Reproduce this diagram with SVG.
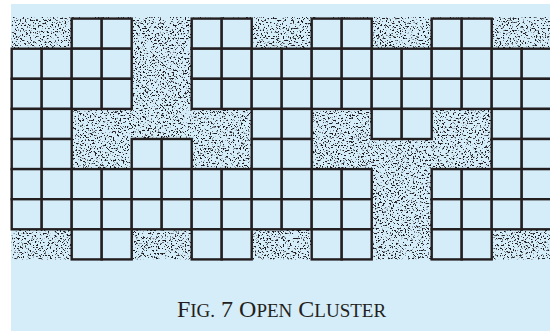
<svg xmlns="http://www.w3.org/2000/svg" width="550" height="331" viewBox="0 0 550 331">
<style>
.bg{fill:#d5ecf9}
.c{fill:#d5ecf9;stroke:#231f20;stroke-width:2.4}
.t{font-family:"Liberation Serif","Times New Roman",serif;fill:#231f20}
.s{font-size:19px}
.b{font-size:24px}
</style>
<defs>
<filter id="stip" x="0" y="0" width="1" height="1" color-interpolation-filters="sRGB">
<feTurbulence type="fractalNoise" baseFrequency="0.6" numOctaves="2" seed="7" result="n"/>
<feColorMatrix in="n" type="matrix" values="0 0 0 0 0.12  0 0 0 0 0.11  0 0 0 0 0.12  -11 0 0 0 4.7" result="d"/>
<feComposite in="d" in2="SourceGraphic" operator="in"/>
</filter>
</defs>
<rect class="bg" x="11" y="4" width="539" height="327"/>
<rect id="stipple" x="11.7" y="17" width="538.3" height="242.4" fill="#d5ecf9" filter="url(#stip)"/>
<g id="row0">
<rect class="c" x="71.7" y="18.6" width="30" height="30.1"/><rect class="c" x="101.7" y="18.6" width="30" height="30.1"/>
<rect class="c" x="191.7" y="18.6" width="30" height="30.1"/><rect class="c" x="221.7" y="18.6" width="30" height="30.1"/>
<rect class="c" x="311.7" y="18.6" width="30" height="30.1"/><rect class="c" x="341.7" y="18.6" width="30" height="30.1"/>
<rect class="c" x="431.7" y="18.6" width="30" height="30.1"/><rect class="c" x="461.7" y="18.6" width="30" height="30.1"/>
</g>
<g id="row1">
<rect class="c" x="11.7" y="48.7" width="30" height="30.1"/><rect class="c" x="41.7" y="48.7" width="30" height="30.1"/>
<rect class="c" x="71.7" y="48.7" width="30" height="30.1"/><rect class="c" x="101.7" y="48.7" width="30" height="30.1"/>
<rect class="c" x="191.7" y="48.7" width="30" height="30.1"/><rect class="c" x="221.7" y="48.7" width="30" height="30.1"/>
<rect class="c" x="251.7" y="48.7" width="30" height="30.1"/><rect class="c" x="281.7" y="48.7" width="30" height="30.1"/>
<rect class="c" x="311.7" y="48.7" width="30" height="30.1"/><rect class="c" x="341.7" y="48.7" width="30" height="30.1"/>
<rect class="c" x="371.7" y="48.7" width="30" height="30.1"/><rect class="c" x="401.7" y="48.7" width="30" height="30.1"/>
<rect class="c" x="431.7" y="48.7" width="30" height="30.1"/><rect class="c" x="461.7" y="48.7" width="30" height="30.1"/>
<rect class="c" x="491.7" y="48.7" width="30" height="30.1"/><rect class="c" x="521.7" y="48.7" width="30" height="30.1"/>
</g>
<g id="row2">
<rect class="c" x="11.7" y="78.8" width="30" height="30.1"/><rect class="c" x="41.7" y="78.8" width="30" height="30.1"/>
<rect class="c" x="71.7" y="78.8" width="30" height="30.1"/><rect class="c" x="101.7" y="78.8" width="30" height="30.1"/>
<rect class="c" x="191.7" y="78.8" width="30" height="30.1"/><rect class="c" x="221.7" y="78.8" width="30" height="30.1"/>
<rect class="c" x="251.7" y="78.8" width="30" height="30.1"/><rect class="c" x="281.7" y="78.8" width="30" height="30.1"/>
<rect class="c" x="311.7" y="78.8" width="30" height="30.1"/><rect class="c" x="341.7" y="78.8" width="30" height="30.1"/>
<rect class="c" x="371.7" y="78.8" width="30" height="30.1"/><rect class="c" x="401.7" y="78.8" width="30" height="30.1"/>
<rect class="c" x="431.7" y="78.8" width="30" height="30.1"/><rect class="c" x="461.7" y="78.8" width="30" height="30.1"/>
<rect class="c" x="491.7" y="78.8" width="30" height="30.1"/><rect class="c" x="521.7" y="78.8" width="30" height="30.1"/>
</g>
<g id="row3">
<rect class="c" x="11.7" y="108.9" width="30" height="30.1"/><rect class="c" x="41.7" y="108.9" width="30" height="30.1"/>
<rect class="c" x="251.7" y="108.9" width="30" height="30.1"/><rect class="c" x="281.7" y="108.9" width="30" height="30.1"/>
<rect class="c" x="371.7" y="108.9" width="30" height="30.1"/><rect class="c" x="401.7" y="108.9" width="30" height="30.1"/>
<rect class="c" x="491.7" y="108.9" width="30" height="30.1"/><rect class="c" x="521.7" y="108.9" width="30" height="30.1"/>
</g>
<g id="row4">
<rect class="c" x="11.7" y="139" width="30" height="30.1"/><rect class="c" x="41.7" y="139" width="30" height="30.1"/>
<rect class="c" x="131.7" y="139" width="30" height="30.1"/><rect class="c" x="161.7" y="139" width="30" height="30.1"/>
<rect class="c" x="251.7" y="139" width="30" height="30.1"/><rect class="c" x="281.7" y="139" width="30" height="30.1"/>
<rect class="c" x="491.7" y="139" width="30" height="30.1"/><rect class="c" x="521.7" y="139" width="30" height="30.1"/>
</g>
<g id="row5">
<rect class="c" x="11.7" y="169.1" width="30" height="30.1"/><rect class="c" x="41.7" y="169.1" width="30" height="30.1"/>
<rect class="c" x="71.7" y="169.1" width="30" height="30.1"/><rect class="c" x="101.7" y="169.1" width="30" height="30.1"/>
<rect class="c" x="131.7" y="169.1" width="30" height="30.1"/><rect class="c" x="161.7" y="169.1" width="30" height="30.1"/>
<rect class="c" x="191.7" y="169.1" width="30" height="30.1"/><rect class="c" x="221.7" y="169.1" width="30" height="30.1"/>
<rect class="c" x="251.7" y="169.1" width="30" height="30.1"/><rect class="c" x="281.7" y="169.1" width="30" height="30.1"/>
<rect class="c" x="311.7" y="169.1" width="30" height="30.1"/><rect class="c" x="341.7" y="169.1" width="30" height="30.1"/>
<rect class="c" x="431.7" y="169.1" width="30" height="30.1"/><rect class="c" x="461.7" y="169.1" width="30" height="30.1"/>
<rect class="c" x="491.7" y="169.1" width="30" height="30.1"/><rect class="c" x="521.7" y="169.1" width="30" height="30.1"/>
</g>
<g id="row6">
<rect class="c" x="11.7" y="199.2" width="30" height="30.1"/><rect class="c" x="41.7" y="199.2" width="30" height="30.1"/>
<rect class="c" x="71.7" y="199.2" width="30" height="30.1"/><rect class="c" x="101.7" y="199.2" width="30" height="30.1"/>
<rect class="c" x="131.7" y="199.2" width="30" height="30.1"/><rect class="c" x="161.7" y="199.2" width="30" height="30.1"/>
<rect class="c" x="191.7" y="199.2" width="30" height="30.1"/><rect class="c" x="221.7" y="199.2" width="30" height="30.1"/>
<rect class="c" x="251.7" y="199.2" width="30" height="30.1"/><rect class="c" x="281.7" y="199.2" width="30" height="30.1"/>
<rect class="c" x="311.7" y="199.2" width="30" height="30.1"/><rect class="c" x="341.7" y="199.2" width="30" height="30.1"/>
<rect class="c" x="431.7" y="199.2" width="30" height="30.1"/><rect class="c" x="461.7" y="199.2" width="30" height="30.1"/>
<rect class="c" x="491.7" y="199.2" width="30" height="30.1"/><rect class="c" x="521.7" y="199.2" width="30" height="30.1"/>
</g>
<g id="row7">
<rect class="c" x="71.7" y="229.3" width="30" height="30.1"/><rect class="c" x="101.7" y="229.3" width="30" height="30.1"/>
<rect class="c" x="191.7" y="229.3" width="30" height="30.1"/><rect class="c" x="221.7" y="229.3" width="30" height="30.1"/>
<rect class="c" x="311.7" y="229.3" width="30" height="30.1"/><rect class="c" x="341.7" y="229.3" width="30" height="30.1"/>
<rect class="c" x="431.7" y="229.3" width="30" height="30.1"/><rect class="c" x="461.7" y="229.3" width="30" height="30.1"/>
</g>
<text class="t" x="281.5" y="317" text-anchor="middle"><tspan class="b">F</tspan><tspan class="s">IG.</tspan><tspan class="b"> 7 O</tspan><tspan class="s">PEN</tspan><tspan class="b"> C</tspan><tspan class="s">LUSTER</tspan></text>
</svg>
